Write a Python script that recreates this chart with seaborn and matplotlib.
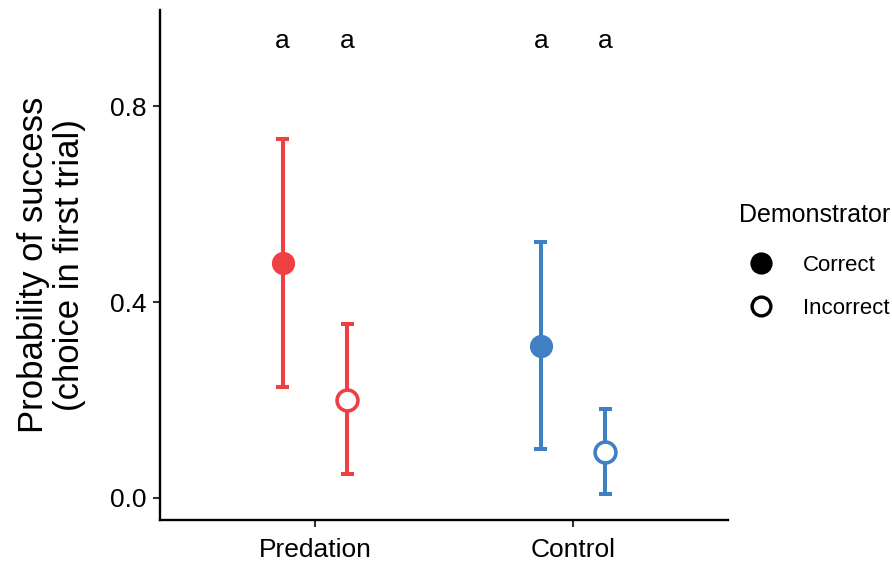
import seaborn as sns
import pandas as pd
import matplotlib.pyplot as plt
from matplotlib.lines import Line2D

# values
conditions = ['Predation', 'Control']
demonstrators = ['Correct', 'Incorrect']
estimate = {'Predation': [0.48, 0.20], 'Control': [0.31, 0.094]}
lower = {'Predation': [0.227, 0.049], 'Control': [0.10, 0.008]}
upper = {'Predation': [0.733, 0.355], 'Control': [0.522, 0.182]}
letters = {'Predation': ['a', 'a'], 'Control': ['a', 'a']}
colors = {'Predation': '#EE3F42', 'Control': '#3E80C1'}

# three rows per group (lower, estimate, upper): median gives the point,
# the 0-100 percentile interval gives the bar
rows = []
for cond in conditions:
    for i, dem in enumerate(demonstrators):
        for v in (lower[cond][i], estimate[cond][i], upper[cond][i]):
            rows.append({'condition': cond, 'demonstrator': dem, 'p': v})
df = pd.DataFrame(rows)

sns.set_style('ticks')
plt.rcParams['font.family'] = ['Liberation Sans', 'DejaVu Sans']

fig = plt.figure(figsize=(8.92, 5.62), dpi=100)
ax = fig.add_axes([0.1794, 0.0747, 0.8161 - 0.1794, 0.9822 - 0.0747])

dodge = 0.25
for cond in conditions:
    sub = df[df['condition'] == cond]
    n0 = len(ax.lines)
    sns.pointplot(data=sub, x='condition', y='p', hue='demonstrator',
                  order=conditions, hue_order=demonstrators,
                  estimator='median', errorbar=('pi', 100),
                  palette=[colors[cond], colors[cond]], markers=['o', 'o'],
                  linestyles='none', dodge=dodge, capsize=0.05,
                  err_kws={'linewidth': 2.9}, legend=False, ax=ax)
    new = ax.lines[n0:]
    pts = [ln for ln in new if ln.get_marker() not in (None, 'None', '', ' ')]
    for j, ln in enumerate(pts):
        ln.set_zorder(4)
        ln.set_markersize(14.5 if j == 0 else 15)
        ln.set_markeredgewidth(2.2 if j == 0 else 2.6)
        ln.set_markeredgecolor(colors[cond])
        ln.set_markerfacecolor(colors[cond] if j == 0 else 'white')
    for ln in new:
        if ln not in pts:
            ln.set_solid_capstyle('butt')

# significance letters above each group
for ci, cond in enumerate(conditions):
    for i, dem in enumerate(demonstrators):
        xpos = ci + (i - 0.5) * dodge
        ax.text(xpos, 0.933, letters[cond][i], ha='center', va='center',
                fontsize=19, color='black')

ax.set_xlim(-0.6, 1.6)
ax.set_ylim(-0.045, 0.996)
ax.set_yticks([0.0, 0.4, 0.8])
ax.set_yticklabels(['0.0', '0.4', '0.8'])
ax.set_xlabel('')
ax.set_ylabel('Probability of success\n(choice in first trial)', fontsize=25,
              linespacing=1.1, labelpad=17, color='black')
ax.tick_params(axis='both', labelsize=19, length=5, width=1.5,
               color='#333333', labelcolor='black', pad=5)
ax.tick_params(axis='x', pad=8)
for side in ('left', 'bottom'):
    ax.spines[side].set_linewidth(1.7)
    ax.spines[side].set_color('black')
sns.despine(ax=ax)

handles = [
    Line2D([], [], linestyle='none', marker='o', markersize=14,
           markerfacecolor='black', markeredgecolor='black', markeredgewidth=2),
    Line2D([], [], linestyle='none', marker='o', markersize=13.5,
           markerfacecolor='white', markeredgecolor='black', markeredgewidth=2.4),
]
leg = fig.legend(handles, demonstrators, title='Demonstrator',
                 loc='upper left', bbox_to_anchor=(0.818, 0.655),
                 frameon=False, fontsize=16, title_fontsize=18,
                 handletextpad=0.9, labelspacing=1.0, borderaxespad=0)
leg._legend_box.align = 'left'
leg._legend_box.sep = 20
leg.get_title().set_color('black')
for t in leg.get_texts():
    t.set_color('black')

fig.savefig('out.png', dpi=100)
